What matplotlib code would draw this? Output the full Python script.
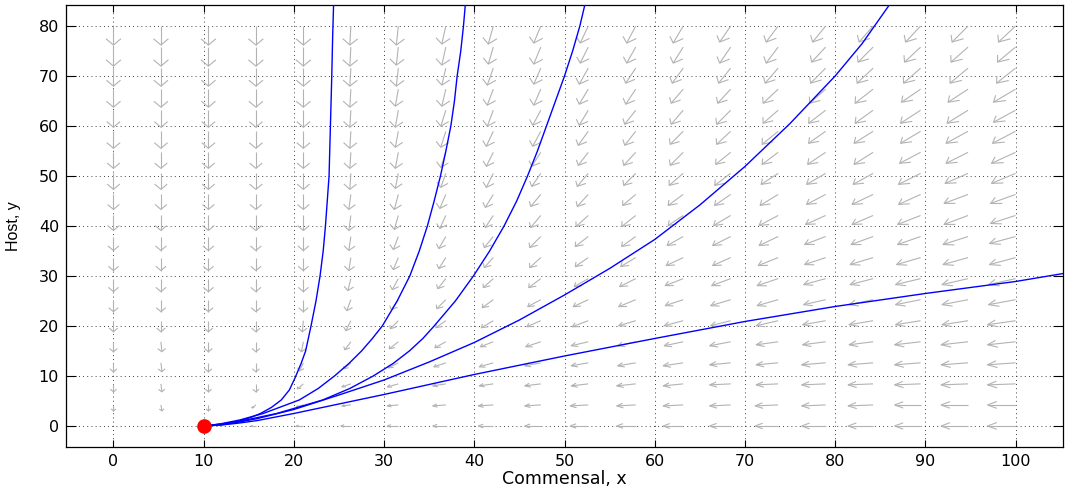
import numpy as np
import matplotlib
matplotlib.use('Agg')
import matplotlib.pyplot as plt
from matplotlib.collections import LineCollection

plt.rcParams['font.family'] = ['DejaVu Sans']

# arrow tails (20 x 20 grid)
x_grid = np.linspace(0, 100, 20)
y_grid = np.linspace(0, 80, 20)

# arrow components in screen pixels
# rows go from the top row (y = 80) down to y = 0
left_px = [
    [0, 0, 0, 0, 0, 1, 2, 4, 5, 7, 8, 9, 10, 11, 12, 13, 14, 15, 16, 17],
    [0, 0, 0, 0, 0, 1, 2, 4, 5, 7, 8, 9, 10, 11, 12, 14, 15, 16, 17, 18],
    [0, 0, 0, 0, 0, 1, 2, 4, 6, 7, 9, 10, 11, 12, 13, 15, 16, 17, 18, 19],
    [0, 0, 0, 0, 0, 1, 3, 4, 6, 7, 9, 10, 12, 13, 15, 16, 18, 19, 20, 22],
    [0, 0, 0, 0, 0, 1, 3, 5, 6, 8, 9, 11, 12, 14, 15, 17, 18, 20, 21, 22],
    [0, 0, 0, 0, 0, 1, 3, 5, 7, 8, 10, 11, 13, 14, 16, 17, 19, 20, 22, 23],
    [0, 0, 0, 0, 0, 1, 3, 5, 7, 9, 10, 12, 13, 15, 16, 18, 19, 21, 22, 24],
    [0, 0, 0, 0, 0, 1, 3, 5, 7, 9, 11, 12, 14, 16, 17, 19, 20, 22, 23, 24],
    [0, 0, 0, 0, 0, 2, 4, 6, 8, 10, 11, 13, 15, 16, 18, 19, 21, 22, 24, 25],
    [0, 0, 0, 0, 0, 2, 4, 6, 8, 10, 12, 14, 15, 17, 19, 20, 21, 23, 24, 25],
    [0, 0, 0, 0, 0, 2, 5, 7, 9, 11, 13, 14, 16, 18, 19, 21, 22, 23, 25, 26],
    [0, 0, 0, 0, 0, 2, 5, 7, 9, 11, 13, 15, 17, 18, 20, 21, 23, 24, 25, 26],
    [0, 0, 0, 0, 0, 3, 6, 8, 10, 12, 14, 16, 18, 19, 21, 22, 23, 25, 26, 27],
    [0, 0, 0, 0, 0, 4, 7, 9, 11, 13, 15, 17, 18, 20, 21, 22, 24, 25, 26, 27],
    [0, 0, 0, 0, 1, 5, 8, 10, 12, 14, 16, 17, 19, 20, 22, 23, 24, 25, 26, 28],
    [0, -1, 0, 0, 2, 6, 9, 11, 13, 15, 17, 18, 19, 21, 22, 23, 24, 26, 27, 28],
    [0, -1, 0, 0, 4, 7, 10, 12, 14, 16, 17, 18, 20, 21, 22, 24, 25, 26, 27, 28],
    [0, -1, 0, 0, 6, 9, 11, 13, 14, 16, 17, 19, 20, 21, 22, 24, 25, 26, 27, 28],
    [0, -1, 0, 4, 7, 9, 11, 13, 15, 16, 18, 19, 20, 21, 23, 24, 25, 26, 27, 28],
    [0, 0, 1, 5, 7, 10, 11, 13, 15, 16, 18, 19, 20, 21, 23, 24, 25, 26, 27, 28],
]
down_px = [
    [19, 19, 19, 19, 19, 19, 19, 18, 18, 17, 17, 17, 17, 16, 16, 16, 16, 16, 16, 16],
    [19, 19, 19, 19, 19, 19, 18, 18, 17, 17, 16, 16, 16, 16, 16, 15, 15, 15, 15, 15],
    [18, 18, 18, 18, 18, 18, 18, 17, 17, 16, 16, 15, 15, 15, 15, 15, 15, 15, 15, 15],
    [18, 18, 18, 18, 18, 18, 17, 17, 16, 16, 15, 15, 14, 14, 14, 14, 14, 13, 13, 13],
    [17, 17, 17, 17, 17, 17, 17, 16, 16, 15, 15, 14, 14, 14, 13, 13, 13, 13, 13, 12],
    [17, 17, 17, 17, 17, 17, 16, 16, 15, 15, 14, 14, 13, 13, 13, 12, 12, 12, 12, 12],
    [16, 16, 16, 16, 16, 16, 16, 15, 14, 14, 13, 13, 13, 12, 12, 12, 12, 11, 11, 11],
    [16, 16, 16, 16, 16, 16, 15, 14, 14, 13, 13, 12, 12, 12, 11, 11, 11, 11, 10, 10],
    [15, 15, 15, 15, 15, 15, 15, 14, 13, 12, 12, 11, 11, 11, 11, 10, 10, 10, 9, 9],
    [15, 15, 15, 15, 15, 15, 14, 13, 12, 12, 11, 11, 10, 10, 10, 9, 9, 9, 9, 8],
    [14, 14, 14, 14, 14, 14, 13, 12, 11, 11, 10, 10, 9, 9, 9, 8, 8, 8, 8, 7],
    [13, 13, 13, 13, 13, 13, 12, 11, 10, 10, 9, 9, 8, 8, 8, 7, 7, 7, 7, 7],
    [13, 13, 13, 13, 13, 12, 11, 10, 9, 9, 8, 8, 7, 7, 7, 6, 6, 6, 6, 6],
    [12, 12, 12, 12, 12, 11, 10, 9, 8, 7, 7, 7, 6, 6, 6, 5, 5, 5, 5, 5],
    [11, 11, 11, 11, 11, 10, 8, 7, 7, 6, 6, 5, 5, 5, 5, 4, 4, 4, 4, 4],
    [10, 10, 10, 10, 10, 8, 7, 6, 5, 5, 4, 4, 4, 4, 3, 3, 3, 3, 3, 3],
    [9, 9, 9, 9, 8, 6, 5, 4, 4, 3, 3, 3, 3, 2, 2, 2, 2, 2, 2, 2],
    [8, 8, 8, 8, 5, 3, 3, 2, 2, 2, 2, 2, 2, 1, 1, 1, 1, 1, 1, 1],
    [6, 6, 6, 3, 2, 1, 1, 1, 1, 1, 1, 1, 1, 1, 1, 1, 1, 0, 0, 0],
    [0, 0, 0, 0, 0, 0, 0, 0, 0, 0, 0, 0, 0, 0, 0, 0, 0, 0, 0, 0],
]

# trajectories
c1_x = [10, 11.8, 12.8, 14.0, 15.2, 16.3, 17.5, 18.6, 19.5, 20.1, 20.8, 21.3, 21.6, 21.9, 22.45, 22.9, 23.25, 23.5, 23.7, 23.9, 24.05, 24.2, 24.3, 24.4]
c1_y = [0, 0.35, 0.6, 1.0, 1.7, 2.5, 3.7, 5.2, 7.2, 9.5, 12.5, 15, 17.5, 20, 25, 30, 35, 40, 45, 50, 60, 70, 78, 84.2]
c2_x = [10, 11.8, 14.0, 16.6, 20.6, 22.7, 24.5, 26.1, 27.5, 28.7, 29.8, 31.45, 32.85, 33.9, 34.8, 35.55, 36.25, 36.85, 37.4, 37.8, 38.1, 38.5, 38.8, 39.0]
c2_y = [0, 0.4, 1.2, 2.5, 5.2, 7.5, 10, 12.5, 15, 17.5, 20, 25, 30, 35, 40, 45, 50, 55, 60, 65, 70, 75, 80, 84.2]
c3_x = [10, 12.1, 14.7, 18.1, 23.2, 26.2, 28.8, 31.0, 32.8, 34.3, 35.55, 37.9, 39.9, 41.7, 43.3, 44.7, 45.9, 47.0, 48.0, 49.0, 50.0, 50.9, 51.7, 52.25]
c3_y = [0, 0.4, 1.2, 2.5, 5.2, 7.5, 10, 12.5, 15, 17.5, 20, 25, 30, 35, 40, 45, 50, 55, 60, 65, 70, 75, 80, 84.2]
c4_x = [10, 12, 14, 16, 20, 25, 30, 35, 40, 45, 50, 55, 60, 65, 70, 75, 80, 83, 86]
c4_y = [0, 0.25, 0.8, 1.5, 3.3, 6.2, 9.2, 12.8, 16.7, 21.2, 26.2, 31.5, 37.3, 44.2, 51.9, 60.5, 70, 76.5, 84.2]
c5_x = [10, 12, 14, 16, 20, 25, 30, 40, 50, 60, 70, 80, 90, 100, 105.3]
c5_y = [0, 0.2, 0.6, 1.1, 2.5, 4.4, 6.3, 10.3, 14.0, 17.5, 20.9, 23.9, 26.5, 28.9, 30.5]

fig = plt.figure(figsize=(10.66, 4.94), dpi=100)
ax = fig.add_axes([0.0619, 0.0951, 0.9353, 0.8948])
dx = x_grid[1] - x_grid[0]
dy = y_grid[1] - y_grid[0]
ax.set_xlim(x_grid[0] - dx, x_grid[-1] + dx)
ax.set_ylim(y_grid[0] - dy, y_grid[-1] + dy)

# pixels per data unit, to turn the pixel lengths into data lengths
pos = ax.get_position()
ppx = pos.width * fig.get_figwidth() * fig.dpi / (x_grid[-1] - x_grid[0] + 2 * dx)
ppy = pos.height * fig.get_figheight() * fig.dpi / (y_grid[-1] - y_grid[0] + 2 * dy)

left = np.array(left_px)[::-1]
down = np.array(down_px)[::-1]

# matlab style arrows (open heads)
a, b = 0.33, 0.66
segs = []
for j, y0 in enumerate(y_grid):
    for i, x0 in enumerate(x_grid):
        u = -left[j, i] / ppx
        v = -down[j, i] / ppy
        if u == 0 and v == 0:
            continue
        tx, ty = x0 + u, y0 + v
        segs.append([(x0, y0), (tx, ty)])
        segs.append([(tx - a * (u + b * v), ty - a * (v - b * u)), (tx, ty),
                     (tx - a * (u - b * v), ty - a * (v + b * u))])
ax.add_collection(LineCollection(segs, colors='#b3b3b3', linewidths=0.8, zorder=2))

for cx, cy in [(c1_x, c1_y), (c2_x, c2_y), (c3_x, c3_y), (c4_x, c4_y), (c5_x, c5_y)]:
    ax.plot(cx, cy, color='blue', lw=1, zorder=3)
ax.plot(10, 0, 'o', color='red', ms=9.5, zorder=4)

ax.set_xticks(range(0, 101, 10))
ax.set_yticks(range(0, 81, 10))
ax.grid(True, color='k', linestyle=(0, (1, 4)), linewidth=0.6)
ax.set_axisbelow(True)
ax.tick_params(direction='in', top=True, right=True, width=0.8, labelsize=11.5, pad=5)
ax.tick_params(axis='x', length=5)
ax.tick_params(axis='y', length=7)
for s in ax.spines.values():
    s.set_linewidth(0.9)
ax.set_xlabel('Commensal, x', fontsize=12.5, labelpad=1)
ax.set_ylabel('Host, y', fontsize=11.5, family=['Liberation Sans', 'DejaVu Sans'])
ax.yaxis.set_label_coords(-0.045, 0.5)

plt.savefig('out.png', dpi=100)
